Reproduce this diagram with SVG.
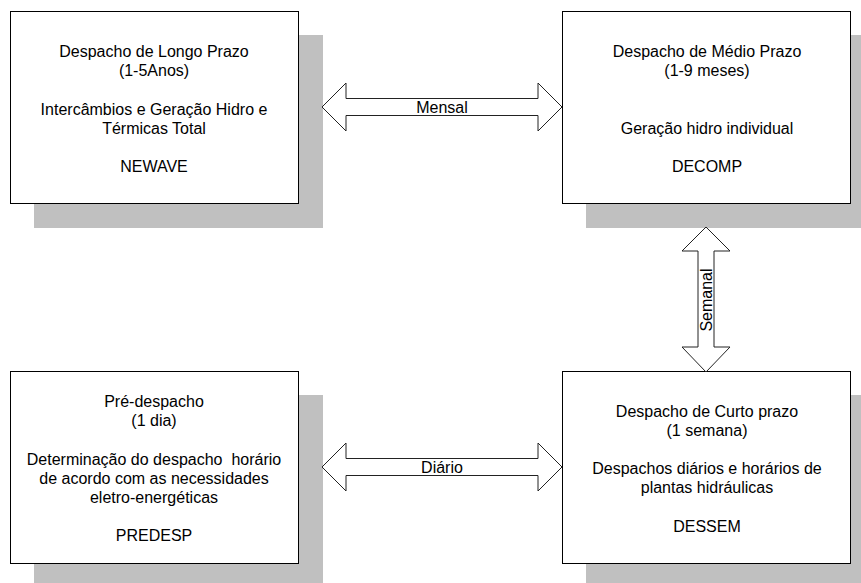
<svg xmlns="http://www.w3.org/2000/svg" width="861" height="583" viewBox="0 0 861 583">
<style>
.shadow{fill:#c0c0c0;stroke:none}
.box{fill:#fff;stroke:#000;stroke-width:1}
.arrow{fill:#fff;stroke:#222;stroke-width:1;stroke-linejoin:miter}
text{font-family:"Liberation Sans",Arial,sans-serif;font-size:16px;fill:#000;text-anchor:middle}
</style>
<rect width="861" height="583" fill="#fff"/>
<g id="node-longo">
<rect class="shadow" x="34" y="35" width="289" height="193"/>
<rect class="box" x="10.5" y="11.5" width="288" height="192"/>
<text x="154" y="57">Despacho de Longo Prazo</text>
<text x="154" y="76">(1-5Anos)</text>
<text x="154" y="115">Intercâmbios e Geração Hidro e</text>
<text x="154" y="134">Térmicas Total</text>
<text x="154" y="172">NEWAVE</text>
</g>
<g id="node-medio">
<rect class="shadow" x="586" y="35" width="275" height="193"/>
<rect class="box" x="562.5" y="11.5" width="288" height="192"/>
<text x="707" y="57">Despacho de Médio Prazo</text>
<text x="707" y="76">(1-9 meses)</text>
<text x="707" y="134">Geração hidro individual</text>
<text x="707" y="172">DECOMP</text>
</g>
<g id="node-pre">
<rect class="shadow" x="34" y="395" width="289" height="188"/>
<rect class="box" x="10.5" y="371.5" width="288" height="192"/>
<text x="154" y="407">Pré-despacho</text>
<text x="154" y="426">(1 dia)</text>
<text x="154" y="465" xml:space="preserve">Determinação do despacho  horário</text>
<text x="154" y="484">de acordo com as necessidades</text>
<text x="154" y="503">eletro-energéticas</text>
<text x="154" y="541">PREDESP</text>
</g>
<g id="node-curto">
<rect class="shadow" x="586" y="395" width="275" height="188"/>
<rect class="box" x="562.5" y="371.5" width="288" height="192"/>
<text x="707" y="417">Despacho de Curto prazo</text>
<text x="707" y="436">(1 semana)</text>
<text x="707" y="474">Despachos diários e horários de</text>
<text x="707" y="493">plantas hidráulicas</text>
<text x="707" y="532">DESSEM</text>
</g>
<g id="connectors">
<polygon class="arrow" points="322,107 346,83 346,98.5 538,98.5 538,83 562,107 538,131 538,115.5 346,115.5 346,131"/>
<text x="442" y="113">Mensal</text>
<polygon class="arrow" points="322,467 346,443 346,458.5 538,458.5 538,443 562,467 538,491 538,475.5 346,475.5 346,491"/>
<text x="442" y="473">Diário</text>
<polygon class="arrow" points="706,227 730,251 714,251 714,347 730,347 706,372 682,347 698,347 698,251 682,251"/>
<text transform="translate(706,300) rotate(-90)" x="0" y="6">Semanal</text>
</g>
</svg>
